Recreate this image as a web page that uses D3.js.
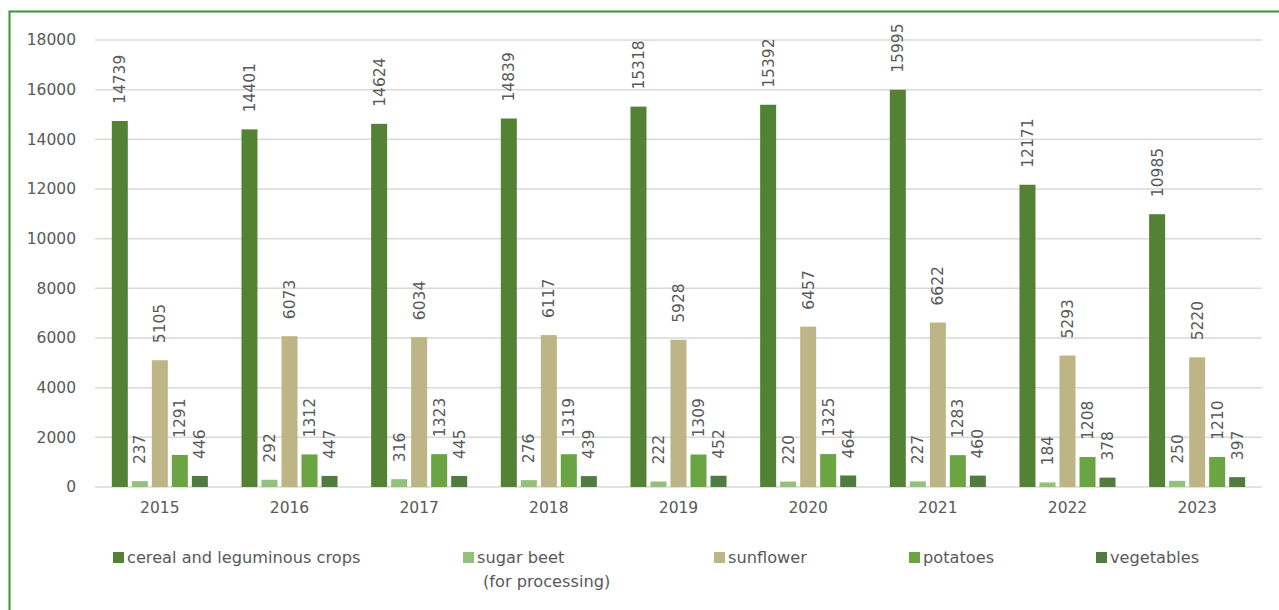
<!DOCTYPE html>
<html>
<head>
<meta charset="utf-8">
<script src="https://cdn.jsdelivr.net/npm/d3@7"></script>
<style>
  html, body { margin: 0; padding: 0; background: #fff; }
  svg { display: block; }
</style>
</head>
<body>
<div id="chart"></div>
<script>
// Data
const years = ["2015", "2016", "2017", "2018", "2019", "2020", "2021", "2022", "2023"]
const seriesNames = ["cereal", "sugar", "sunflower", "potatoes", "vegetables"]
const seriesLabels = [["cereal and leguminous crops"], ["sugar beet", "(for processing)"], ["sunflower"], ["potatoes"], ["vegetables"]]
const cereal = [14739, 14401, 14624, 14839, 15318, 15392, 15995, 12171, 10985]
const sugar = [237, 292, 316, 276, 222, 220, 227, 184, 250]
const sunflower = [5105, 6073, 6034, 6117, 5928, 6457, 6622, 5293, 5220]
const potatoes = [1291, 1312, 1323, 1319, 1309, 1325, 1283, 1208, 1210]
const vegetables = [446, 447, 445, 439, 452, 464, 460, 378, 397]
const yTicks = [0, 2000, 4000, 6000, 8000, 10000, 12000, 14000, 16000, 18000]

const COLORS = {
  cereal: "#548235",
  sugar: "#93c07a",
  sunflower: "#bdb585",
  potatoes: "#6aa443",
  vegetables: "#507d3f",
  grid: "#d9d9d9",
  text: "#595959",
  frame: "#3a943a"
}

const W = 1279, H = 610
const plot = { left: 95, right: 1262, top: 40, bottom: 487 }
const LEGEND_X = [113, 463, 714, 909, 1096]
const LABEL_FONT = "'DejaVu Sans', sans-serif"

const values = { cereal, sugar, sunflower, potatoes, vegetables }

const svg = d3.select("#chart").append("svg")
  .attr("width", W).attr("height", H)

// Frame
svg.append("rect")
  .attr("x", 9.5).attr("y", 11.5)
  .attr("width", W + 20).attr("height", H + 20)
  .attr("fill", "none")
  .attr("stroke", COLORS.frame)
  .attr("stroke-width", 2)

const x0 = d3.scaleBand().domain(years).range([plot.left, plot.right]).padding(0)
const x1 = d3.scaleBand().domain(seriesNames).range([0, x0.bandwidth()])
  .paddingInner(0.2).paddingOuter(0.84)
const y = d3.scaleLinear().domain([0, 18000]).range([plot.bottom, plot.top])

// Gridlines
svg.append("g").selectAll("line")
  .data(yTicks)
  .join("line")
  .attr("x1", plot.left).attr("x2", plot.right)
  .attr("y1", d => y(d)).attr("y2", d => y(d))
  .attr("stroke", COLORS.grid)
  .attr("stroke-width", 1.5)

// Y axis labels
const yAxis = svg.append("g")
  .attr("transform", `translate(${plot.left - 19},0)`)
  .call(d3.axisLeft(y).tickValues(yTicks).tickFormat(d3.format("d")).tickSize(0).tickPadding(0))
yAxis.select(".domain").remove()
yAxis.selectAll("text")
  .attr("fill", COLORS.text)
  .attr("font-family", LABEL_FONT)
  .attr("font-size", "15.5px")

// X axis labels
const xAxis = svg.append("g")
  .attr("transform", `translate(0,${plot.bottom})`)
  .call(d3.axisBottom(x0).tickSize(0).tickPadding(15))
xAxis.select(".domain").remove()
xAxis.selectAll("text")
  .attr("fill", COLORS.text)
  .attr("font-family", LABEL_FONT)
  .attr("font-size", "15.5px")

// Bars + labels
const groups = svg.append("g").selectAll("g")
  .data(years.map((yr, i) => ({ yr, i })))
  .join("g")
  .attr("transform", d => `translate(${x0(d.yr)},0)`)

groups.each(function(d) {
  const g = d3.select(this)
  seriesNames.forEach(s => {
    const v = values[s][d.i]
    const bx = x1(s)
    g.append("rect")
      .attr("x", bx)
      .attr("y", y(v))
      .attr("width", x1.bandwidth())
      .attr("height", y(0) - y(v))
      .attr("fill", COLORS[s])

    const cx = bx + x1.bandwidth() / 2
    const ty = y(v) - 17
    g.append("text")
      .attr("transform", `translate(${cx},${ty}) rotate(-90)`)
      .attr("text-anchor", "start")
      .attr("dy", "0.35em")
      .attr("fill", COLORS.text)
      .attr("font-family", LABEL_FONT)
      .attr("font-size", "15.5px")
      .text(v)
  })
})

// Legend
const legend = svg.append("g")
seriesNames.forEach((s, i) => {
  const lx = LEGEND_X[i]
  legend.append("rect")
    .attr("x", lx).attr("y", 552)
    .attr("width", 11).attr("height", 11)
    .attr("fill", COLORS[s])
  seriesLabels[i].forEach((line, j) => {
    legend.append("text")
      .attr("x", lx + 14 + (j > 0 ? 6 : 0))
      .attr("y", 563 + j * 24)
      .attr("fill", COLORS.text)
      .attr("font-family", LABEL_FONT)
      .attr("font-size", "16.2px")
      .text(line)
  })
})
</script>
</body>
</html>
